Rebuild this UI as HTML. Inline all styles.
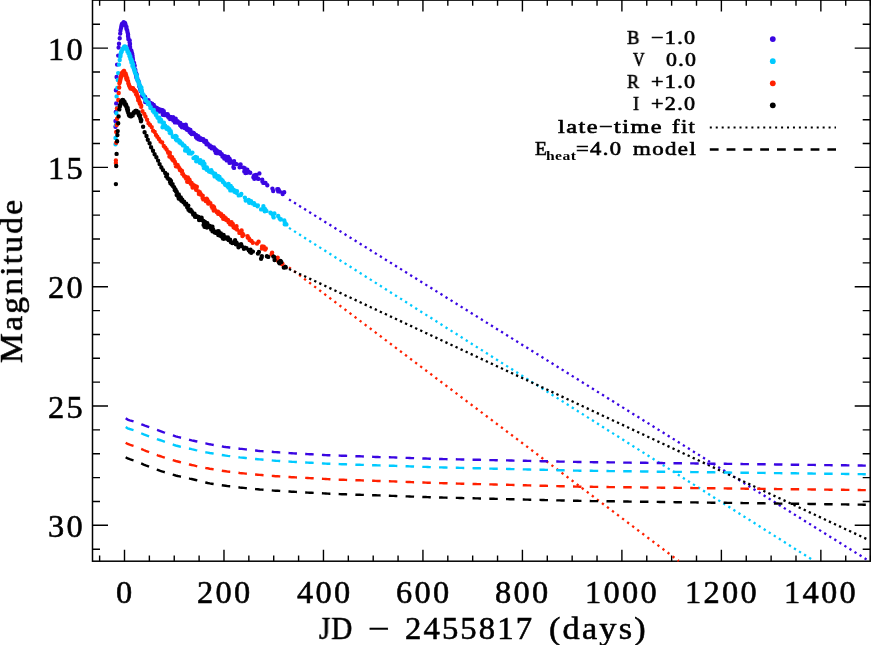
<!DOCTYPE html>
<html><head><meta charset="utf-8"><title>SN 2011fe light curves</title>
<style>
html,body{margin:0;padding:0;background:#fff}
body{width:871px;height:645px;position:relative;overflow:hidden;font-family:"Liberation Serif",serif;color:#000}
.w{position:absolute;white-space:pre;line-height:1;transform-origin:0 0;-webkit-text-stroke:0.55px #000;will-change:transform}
.g{-webkit-text-stroke:0.65px #000}
.b{font-weight:bold;-webkit-text-stroke:0}
</style></head><body>
<svg width="871" height="645" viewBox="0 0 871 645" style="position:absolute;left:0;top:0">
<rect x="92.5" y="0.1" width="777.7" height="561.1" fill="none" stroke="#000" stroke-width="1.5"/>
<path d="M99.63 561.2v-5.7M99.63 0.1v5.7M124.50 561.2v-11.5M124.50 0.1v11.5M149.37 561.2v-5.7M149.37 0.1v5.7M174.24 561.2v-5.7M174.24 0.1v5.7M199.11 561.2v-5.7M199.11 0.1v5.7M223.98 561.2v-11.5M223.98 0.1v11.5M248.85 561.2v-5.7M248.85 0.1v5.7M273.72 561.2v-5.7M273.72 0.1v5.7M298.59 561.2v-5.7M298.59 0.1v5.7M323.46 561.2v-11.5M323.46 0.1v11.5M348.33 561.2v-5.7M348.33 0.1v5.7M373.20 561.2v-5.7M373.20 0.1v5.7M398.07 561.2v-5.7M398.07 0.1v5.7M422.94 561.2v-11.5M422.94 0.1v11.5M447.81 561.2v-5.7M447.81 0.1v5.7M472.68 561.2v-5.7M472.68 0.1v5.7M497.55 561.2v-5.7M497.55 0.1v5.7M522.42 561.2v-11.5M522.42 0.1v11.5M547.29 561.2v-5.7M547.29 0.1v5.7M572.16 561.2v-5.7M572.16 0.1v5.7M597.03 561.2v-5.7M597.03 0.1v5.7M621.90 561.2v-11.5M621.90 0.1v11.5M646.77 561.2v-5.7M646.77 0.1v5.7M671.64 561.2v-5.7M671.64 0.1v5.7M696.51 561.2v-5.7M696.51 0.1v5.7M721.38 561.2v-11.5M721.38 0.1v11.5M746.25 561.2v-5.7M746.25 0.1v5.7M771.12 561.2v-5.7M771.12 0.1v5.7M795.99 561.2v-5.7M795.99 0.1v5.7M820.86 561.2v-11.5M820.86 0.1v11.5M845.73 561.2v-5.7M845.73 0.1v5.7M870.60 561.2v-5.7M870.60 0.1v5.7M92.5 24.26h7.5M870.2 24.26h-7.5M92.5 48.12h15.5M870.2 48.12h-15.5M92.5 71.98h7.5M870.2 71.98h-7.5M92.5 95.84h7.5M870.2 95.84h-7.5M92.5 119.70h7.5M870.2 119.70h-7.5M92.5 143.56h7.5M870.2 143.56h-7.5M92.5 167.42h15.5M870.2 167.42h-15.5M92.5 191.28h7.5M870.2 191.28h-7.5M92.5 215.14h7.5M870.2 215.14h-7.5M92.5 239.00h7.5M870.2 239.00h-7.5M92.5 262.86h7.5M870.2 262.86h-7.5M92.5 286.72h15.5M870.2 286.72h-15.5M92.5 310.58h7.5M870.2 310.58h-7.5M92.5 334.44h7.5M870.2 334.44h-7.5M92.5 358.30h7.5M870.2 358.30h-7.5M92.5 382.16h7.5M870.2 382.16h-7.5M92.5 406.02h15.5M870.2 406.02h-15.5M92.5 429.88h7.5M870.2 429.88h-7.5M92.5 453.74h7.5M870.2 453.74h-7.5M92.5 477.60h7.5M870.2 477.60h-7.5M92.5 501.46h7.5M870.2 501.46h-7.5M92.5 525.32h15.5M870.2 525.32h-15.5M92.5 549.18h7.5M870.2 549.18h-7.5" stroke="#000" stroke-width="1.4" fill="none"/>
<path d="M115.5 126.7h0M115.5 121.0h0M115.8 112.0h0M116.2 103.4h0M115.9 90.2h0M116.6 77.0h0M117.1 64.6h0M118.2 55.6h0M118.6 47.6h0M119.0 43.7h0M119.7 38.3h0M120.2 33.6h0M120.5 30.5h0M121.0 28.2h0M121.3 26.7h0M121.4 26.1h0M121.9 25.8h0M121.7 24.8h0M121.8 24.4h0M122.0 23.9h0M122.6 23.6h0M122.8 23.6h0M122.6 23.4h0M123.0 23.2h0M123.2 23.2h0M123.5 22.7h0M123.7 22.9h0M123.7 22.3h0M124.0 23.3h0M125.0 23.2h0M125.1 23.6h0M124.8 22.9h0M125.3 23.7h0M125.2 23.5h0M125.5 24.6h0M125.6 25.2h0M126.1 26.8h0M126.5 26.9h0M126.4 28.2h0M126.5 29.1h0M127.2 30.3h0M127.4 31.8h0M127.9 33.5h0M128.1 34.7h0M128.0 36.0h0M128.2 37.1h0M128.4 38.2h0M128.4 39.2h0M129.7 40.4h0M129.6 42.2h0M129.9 43.2h0M130.0 44.0h0M129.6 45.4h0M130.0 46.5h0M130.2 48.3h0M130.5 50.0h0M131.4 50.8h0M131.6 51.7h0M132.2 53.7h0M132.2 54.5h0M132.6 56.0h0M132.6 57.5h0M132.8 58.1h0M133.0 59.1h0M132.8 61.0h0M133.7 62.5h0M134.1 63.1h0M133.4 64.3h0M134.7 65.8h0M134.4 66.6h0M134.3 67.5h0M134.4 69.5h0M135.3 69.8h0M135.3 70.6h0M135.3 72.4h0M136.1 73.1h0M135.9 74.3h0M136.9 75.0h0M136.1 75.5h0M136.4 77.6h0M137.2 78.4h0M137.0 78.7h0M137.9 80.4h0M137.7 80.3h0M138.6 81.5h0M138.7 82.2h0M138.9 84.0h0M139.2 84.3h0M139.4 84.9h0M139.2 86.2h0M140.1 86.7h0M140.4 88.2h0M140.7 88.3h0M140.0 88.9h0M141.0 90.4h0M141.1 90.5h0M140.7 91.0h0M142.2 95.3h0M142.2 96.1h0M141.9 92.1h0M143.8 96.8h0M143.9 97.6h0M144.5 96.6h0M144.9 98.7h0M145.2 102.1h0M145.1 96.9h0M146.1 100.1h0M146.1 101.5h0M148.5 100.3h0M148.7 101.6h0M148.5 101.7h0M148.8 103.3h0M150.0 102.9h0M148.9 103.1h0M150.1 105.1h0M150.4 103.5h0M150.3 103.0h0M150.1 104.4h0M152.1 103.6h0M152.3 105.2h0M151.7 106.4h0M151.7 104.3h0M153.5 106.1h0M153.8 104.9h0M153.4 105.7h0M155.0 108.3h0M154.6 106.6h0M155.1 109.3h0M155.4 108.0h0M154.5 108.0h0M156.4 109.7h0M156.9 108.0h0M158.8 109.9h0M158.1 109.8h0M159.2 109.7h0M160.1 111.6h0M159.1 109.2h0M160.7 110.8h0M159.5 111.6h0M161.6 109.9h0M162.9 111.2h0M162.6 110.2h0M162.0 111.6h0M162.8 114.7h0M163.8 111.3h0M164.3 115.0h0M166.3 114.2h0M167.0 115.6h0M168.0 115.2h0M167.6 114.3h0M168.1 116.7h0M169.2 117.9h0M170.0 119.1h0M169.8 117.5h0M170.1 117.0h0M170.7 117.7h0M170.8 118.9h0M171.5 117.3h0M173.2 119.1h0M173.3 120.5h0M173.1 117.2h0M173.7 119.6h0M173.1 118.6h0M174.9 121.0h0M174.9 122.4h0M175.5 120.7h0M175.7 118.7h0M177.5 121.2h0M177.0 122.3h0M177.2 122.5h0M177.9 121.8h0M177.8 122.4h0M178.0 122.2h0M178.4 122.5h0M180.3 122.9h0M180.2 125.3h0M181.2 126.2h0M182.0 127.2h0M182.4 126.0h0M182.4 125.8h0M182.2 124.8h0M184.7 128.0h0M183.6 125.3h0M184.6 125.9h0M185.1 127.6h0M185.8 124.7h0M186.5 127.1h0M186.7 129.5h0M187.6 130.1h0M187.9 129.4h0M188.4 129.8h0M188.0 129.3h0M188.9 129.1h0M188.3 130.2h0M189.6 131.9h0M190.4 130.8h0M190.2 131.8h0M191.1 132.3h0M190.7 133.0h0M190.4 129.9h0M191.8 133.8h0M191.6 132.2h0M191.7 134.0h0M194.1 133.7h0M193.6 133.0h0M194.1 134.0h0M195.3 135.0h0M196.1 134.9h0M196.7 136.2h0M196.1 137.3h0M197.2 138.4h0M196.9 137.1h0M198.2 136.2h0M198.6 139.2h0M198.7 137.0h0M200.5 138.3h0M200.5 139.9h0M201.6 138.9h0M202.0 139.5h0M201.6 138.9h0M203.3 139.3h0M203.7 140.6h0M203.9 141.2h0M204.4 140.9h0M203.7 140.7h0M204.6 140.8h0M204.3 141.8h0M205.1 141.6h0M206.1 140.9h0M206.3 142.1h0M206.9 144.3h0M206.9 143.5h0M206.3 142.7h0M206.8 142.9h0M206.5 144.3h0M207.9 144.3h0M208.0 144.1h0M207.5 143.6h0M209.9 145.5h0M209.6 146.7h0M211.4 146.6h0M212.4 148.0h0M211.8 147.4h0M211.6 148.2h0M213.9 147.5h0M214.7 150.3h0M214.4 148.5h0M215.0 149.0h0M215.7 152.8h0M216.4 150.2h0M216.3 153.0h0M216.2 150.1h0M217.3 151.5h0M217.7 153.0h0M217.7 151.2h0M218.3 152.5h0M219.0 152.9h0M219.2 152.5h0M220.6 153.9h0M219.6 153.2h0M220.0 152.1h0M221.8 154.3h0M220.7 153.6h0M222.4 156.6h0M224.3 158.6h0M224.7 156.2h0M225.9 156.8h0M226.5 157.6h0M227.5 159.3h0M227.5 157.7h0M226.7 160.4h0M228.5 160.2h0M228.2 156.9h0M228.0 159.5h0M229.6 162.9h0M230.2 160.1h0M229.5 158.7h0M229.8 160.8h0M231.3 162.4h0M232.8 161.9h0M233.9 163.5h0M234.1 161.3h0M234.0 163.4h0M233.4 167.1h0M234.2 164.8h0M234.5 163.8h0M234.0 167.9h0M233.9 164.7h0M234.5 164.3h0M236.6 164.1h0M240.6 164.4h0M239.6 167.3h0M240.3 167.0h0M243.6 167.6h0M244.7 168.3h0M244.3 171.4h0M247.3 169.6h0M248.0 171.7h0M246.9 172.7h0M245.4 173.0h0M247.5 172.6h0M250.0 172.6h0M250.2 172.7h0M254.1 175.5h0M256.1 175.0h0M256.2 175.5h0M253.4 177.2h0M254.3 178.7h0M258.3 178.9h0M259.4 173.4h0M257.8 178.4h0M257.2 178.6h0M262.4 181.4h0M263.3 182.9h0M263.7 182.6h0M262.2 179.6h0M263.4 182.4h0M265.5 182.9h0M267.3 185.3h0M273.2 191.0h0M272.4 188.6h0M279.6 191.6h0M278.2 191.4h0M278.9 190.3h0M278.3 189.3h0M277.3 189.1h0M282.5 192.9h0M284.2 192.3h0M282.6 192.8h0M282.7 194.0h0" stroke="#3a06e2" stroke-width="4.4" stroke-linecap="round" fill="none"/>
<path d="M115.5 144.3h0M115.5 138.0h0M116.0 125.0h0M116.4 113.3h0M117.1 108.0h0M116.6 96.4h0M117.3 88.0h0M117.8 80.0h0M118.2 73.1h0M119.0 64.6h0M119.7 60.0h0M120.4 56.4h0M120.5 55.7h0M120.6 54.5h0M120.7 54.0h0M120.9 52.8h0M121.2 52.5h0M121.8 51.6h0M121.5 51.0h0M122.1 50.4h0M122.3 50.0h0M122.5 49.6h0M122.5 48.9h0M122.9 49.1h0M123.0 48.4h0M123.4 48.6h0M123.6 48.1h0M123.8 47.6h0M123.7 47.8h0M124.2 47.4h0M124.2 47.1h0M124.2 46.6h0M124.9 46.7h0M124.5 46.6h0M124.5 46.5h0M125.4 46.8h0M125.2 47.6h0M125.2 47.9h0M125.8 47.9h0M126.5 47.9h0M125.9 48.2h0M126.6 48.3h0M126.9 49.3h0M127.0 49.5h0M127.1 49.8h0M127.8 51.3h0M127.4 51.4h0M128.3 52.1h0M128.2 52.0h0M128.4 53.2h0M129.3 53.7h0M128.9 53.7h0M129.1 54.8h0M129.3 55.7h0M130.3 56.2h0M129.8 56.7h0M130.5 58.0h0M130.3 58.7h0M131.4 59.6h0M131.6 60.6h0M131.1 60.5h0M132.1 61.5h0M131.4 62.5h0M132.1 62.8h0M132.9 63.9h0M133.2 64.4h0M132.4 65.9h0M132.9 66.7h0M133.4 67.1h0M133.2 67.4h0M134.1 68.9h0M134.5 69.6h0M134.7 70.5h0M134.3 70.2h0M134.6 71.5h0M135.0 71.6h0M134.9 72.6h0M135.5 73.4h0M136.0 74.6h0M136.6 75.0h0M136.9 75.8h0M136.6 76.5h0M137.2 77.7h0M137.1 78.0h0M136.9 78.6h0M137.1 79.4h0M137.5 80.6h0M138.4 81.1h0M138.4 81.7h0M139.2 83.1h0M139.1 83.7h0M139.0 84.1h0M139.2 85.2h0M139.8 85.8h0M140.0 85.6h0M139.9 86.9h0M140.9 87.7h0M140.5 88.4h0M141.1 89.4h0M140.4 89.9h0M141.4 89.5h0M141.4 87.4h0M141.8 90.1h0M142.1 92.7h0M142.2 93.6h0M142.9 94.1h0M143.7 95.2h0M144.9 99.0h0M145.1 98.9h0M145.7 100.5h0M145.7 98.6h0M146.4 101.1h0M147.9 103.1h0M147.8 103.9h0M148.7 102.7h0M148.4 104.0h0M149.2 104.5h0M150.7 107.1h0M150.4 107.9h0M152.8 110.8h0M153.8 109.9h0M154.3 112.6h0M154.2 112.4h0M155.9 114.9h0M156.2 114.8h0M156.4 113.6h0M157.4 117.3h0M158.0 117.9h0M159.2 119.4h0M159.5 121.4h0M159.7 118.7h0M159.4 117.7h0M161.0 121.5h0M161.1 119.9h0M161.4 121.5h0M162.4 122.7h0M162.5 127.2h0M163.9 122.7h0M162.9 123.7h0M165.2 125.8h0M164.8 125.8h0M165.1 126.3h0M165.7 127.6h0M167.8 127.7h0M166.6 128.7h0M167.5 127.5h0M168.4 128.9h0M168.8 129.1h0M169.3 130.4h0M168.6 129.8h0M169.4 129.3h0M169.7 132.7h0M170.2 131.0h0M171.2 133.4h0M170.8 131.2h0M172.8 136.7h0M173.8 136.7h0M174.7 136.2h0M175.8 138.0h0M176.3 138.2h0M175.9 139.4h0M175.8 136.0h0M176.6 136.8h0M176.9 140.4h0M176.1 138.5h0M177.4 139.7h0M178.5 140.2h0M179.7 141.2h0M179.5 141.8h0M179.4 141.4h0M180.3 142.0h0M179.5 142.5h0M181.1 143.5h0M182.0 143.5h0M183.1 144.9h0M183.0 145.4h0M184.4 145.7h0M185.1 150.5h0M185.3 147.3h0M187.2 148.3h0M188.0 150.4h0M187.6 151.0h0M189.0 150.4h0M189.0 150.8h0M188.8 153.3h0M191.2 153.6h0M192.4 152.6h0M193.5 158.1h0M195.5 157.0h0M194.4 157.8h0M196.2 161.2h0M196.5 158.0h0M197.0 157.4h0M196.9 159.1h0M198.2 160.1h0M200.4 160.3h0M199.8 162.7h0M201.2 163.0h0M201.6 163.6h0M203.4 165.9h0M203.2 161.6h0M203.4 163.8h0M204.5 164.0h0M203.9 167.9h0M205.6 167.9h0M205.0 168.2h0M206.2 167.2h0M206.8 169.7h0M206.9 167.4h0M207.4 169.6h0M207.4 168.9h0M209.0 171.4h0M211.3 170.3h0M210.1 171.9h0M210.7 171.0h0M211.9 171.6h0M211.9 172.5h0M213.5 173.2h0M214.3 175.1h0M214.6 176.4h0M215.1 173.8h0M215.7 175.3h0M216.4 175.5h0M217.0 177.2h0M218.0 177.0h0M217.4 178.3h0M218.6 178.2h0M219.8 179.6h0M218.3 176.3h0M219.1 179.6h0M219.2 178.8h0M219.5 176.9h0M219.6 177.9h0M221.2 179.4h0M221.3 179.9h0M222.5 180.4h0M222.9 182.0h0M223.3 181.9h0M224.6 183.5h0M224.6 183.2h0M224.9 184.2h0M226.0 185.1h0M225.4 184.9h0M226.8 185.3h0M227.3 186.0h0M228.0 185.6h0M228.6 183.9h0M228.4 187.5h0M229.1 185.7h0M229.4 186.0h0M229.2 187.2h0M230.7 186.0h0M230.3 190.4h0M231.2 189.2h0M230.3 188.7h0M232.0 187.8h0M232.5 190.2h0M232.9 189.4h0M234.6 191.2h0M234.7 190.5h0M235.2 191.4h0M234.5 191.8h0M234.2 191.0h0M236.4 191.3h0M236.5 192.8h0M237.0 191.3h0M241.3 194.0h0M240.8 195.0h0M238.7 195.4h0M245.7 200.5h0M244.9 197.6h0M249.6 202.8h0M251.1 201.2h0M249.2 202.8h0M248.7 200.0h0M254.8 204.4h0M252.5 203.4h0M254.6 204.9h0M254.0 203.2h0M252.3 203.1h0M257.9 205.4h0M257.6 206.3h0M263.4 206.3h0M261.1 209.4h0M265.1 211.1h0M264.8 211.3h0M265.5 209.9h0M266.4 210.9h0M264.9 208.9h0M270.5 212.8h0M271.3 213.4h0M273.7 217.4h0M273.3 216.8h0M274.4 213.5h0M272.8 214.7h0M273.2 214.7h0M280.8 219.2h0M278.2 216.0h0M280.5 219.5h0M278.2 216.2h0M279.6 218.6h0M285.6 223.6h0M286.4 224.4h0M284.7 224.3h0M284.3 220.4h0M284.6 221.4h0" stroke="#00caff" stroke-width="4.4" stroke-linecap="round" fill="none"/>
<path d="M115.9 163.0h0M115.9 160.5h0M116.2 142.7h0M116.2 131.9h0M116.7 125.0h0M117.1 118.7h0M116.9 108.4h0M118.3 100.0h0M118.7 93.0h0M119.2 87.5h0M119.4 83.2h0M119.8 82.6h0M120.0 81.5h0M120.2 80.6h0M120.5 79.2h0M120.8 78.1h0M120.7 77.4h0M121.3 76.2h0M121.0 75.9h0M121.6 75.1h0M121.6 74.8h0M121.8 74.4h0M121.8 73.9h0M121.9 73.0h0M122.6 72.6h0M122.9 72.5h0M123.0 72.0h0M123.0 72.0h0M123.1 71.8h0M123.5 71.9h0M123.6 71.2h0M123.7 71.1h0M123.9 71.0h0M124.1 71.0h0M124.2 71.2h0M124.3 72.0h0M124.4 72.4h0M124.6 72.7h0M125.7 73.8h0M125.4 74.0h0M126.2 75.5h0M125.5 75.9h0M126.3 76.2h0M126.1 77.7h0M127.3 78.2h0M126.5 79.2h0M127.6 80.4h0M127.9 81.3h0M128.1 81.3h0M128.3 83.2h0M128.3 83.2h0M129.0 84.6h0M128.9 84.3h0M129.0 85.3h0M129.6 86.6h0M129.5 86.5h0M129.9 87.3h0M130.2 87.1h0M130.2 88.0h0M130.6 87.6h0M130.4 87.5h0M130.5 88.5h0M131.4 88.4h0M131.8 88.3h0M131.3 88.3h0M131.8 87.9h0M132.3 89.1h0M133.1 88.3h0M133.1 88.3h0M132.6 88.7h0M133.0 88.8h0M133.2 89.2h0M134.0 90.4h0M134.1 89.7h0M134.0 90.0h0M135.1 90.7h0M134.4 91.0h0M134.8 91.4h0M135.3 91.6h0M135.9 91.7h0M135.4 91.9h0M136.1 92.2h0M136.7 93.5h0M136.1 94.3h0M137.1 94.8h0M137.1 95.5h0M136.8 95.6h0M137.9 96.8h0M137.9 97.8h0M138.5 98.6h0M138.2 99.1h0M138.2 100.2h0M138.9 100.0h0M139.4 101.8h0M139.8 102.1h0M139.7 103.2h0M140.2 103.2h0M140.5 104.6h0M140.2 104.6h0M140.6 105.0h0M141.2 105.8h0M141.2 106.8h0M142.5 111.3h0M144.3 113.9h0M145.5 116.5h0M147.1 119.7h0M148.5 123.2h0M150.0 125.0h0M151.7 127.1h0M153.1 130.8h0M154.7 131.9h0M156.0 134.9h0M157.3 136.8h0M158.9 139.0h0M160.5 141.4h0M162.2 142.5h0M163.8 145.9h0M165.3 147.7h0M166.6 149.5h0M168.0 152.1h0M168.2 152.8h0M168.1 152.0h0M169.8 154.1h0M169.4 156.6h0M169.8 152.8h0M170.1 156.2h0M171.3 157.8h0M171.6 157.6h0M172.6 159.7h0M172.3 159.2h0M172.1 157.3h0M173.7 159.8h0M173.4 160.5h0M174.8 161.8h0M175.3 163.7h0M175.9 166.3h0M176.2 165.2h0M176.8 164.8h0M177.6 165.0h0M176.6 165.6h0M178.3 166.9h0M179.4 168.2h0M178.6 167.2h0M180.5 169.7h0M179.9 170.0h0M180.3 170.0h0M181.6 171.2h0M182.9 174.0h0M182.0 170.9h0M182.1 173.6h0M183.1 174.3h0M184.1 175.9h0M184.9 176.4h0M185.4 176.7h0M185.4 176.7h0M185.4 177.3h0M186.0 178.5h0M187.9 177.5h0M187.7 179.9h0M187.2 181.8h0M189.0 180.4h0M188.0 179.2h0M188.5 182.0h0M190.0 181.4h0M189.0 181.6h0M189.7 181.6h0M189.5 179.7h0M191.0 183.9h0M191.6 182.9h0M192.8 184.5h0M192.6 187.5h0M192.2 185.6h0M193.5 185.2h0M194.6 185.6h0M195.4 186.8h0M196.7 187.2h0M196.8 186.7h0M196.1 189.7h0M196.3 189.9h0M196.5 187.7h0M198.6 191.5h0M199.8 192.3h0M199.2 192.2h0M198.9 193.9h0M200.3 194.4h0M201.0 194.8h0M200.9 194.1h0M200.5 194.6h0M202.6 198.0h0M202.3 195.7h0M202.7 195.6h0M204.4 199.1h0M203.3 199.4h0M203.4 198.4h0M204.6 199.5h0M205.8 201.0h0M206.7 198.7h0M207.5 201.7h0M207.3 199.6h0M206.3 199.1h0M208.2 203.6h0M208.5 201.5h0M209.3 203.3h0M208.7 203.6h0M208.6 202.9h0M210.4 203.3h0M211.7 206.4h0M213.0 206.3h0M213.0 207.0h0M212.2 207.7h0M214.1 208.5h0M214.1 207.2h0M213.7 210.6h0M214.8 209.7h0M216.7 212.0h0M218.0 211.7h0M217.6 212.7h0M217.3 211.8h0M218.3 213.9h0M219.7 213.3h0M220.8 214.2h0M221.7 216.2h0M221.0 215.2h0M221.3 214.2h0M223.3 215.9h0M223.4 217.4h0M223.2 218.8h0M222.8 217.0h0M224.2 217.4h0M225.7 219.5h0M224.8 217.4h0M225.9 218.5h0M226.1 220.0h0M226.4 219.5h0M228.3 220.7h0M227.9 220.0h0M227.7 220.1h0M228.6 222.3h0M230.1 224.2h0M231.5 222.2h0M232.2 224.4h0M232.8 224.0h0M231.8 224.7h0M233.6 227.3h0M234.3 226.9h0M235.2 228.2h0M236.2 226.8h0M234.5 227.6h0M236.5 226.2h0M237.0 229.5h0M234.5 227.8h0M239.5 232.5h0M239.4 232.9h0M241.6 230.4h0M241.5 233.2h0M240.3 231.5h0M243.4 234.9h0M242.4 236.1h0M242.6 233.7h0M249.6 240.0h0M249.0 238.4h0M247.7 237.6h0M247.8 236.8h0M247.6 236.1h0M251.5 241.0h0M252.8 242.8h0M258.6 241.8h0M257.0 243.5h0M261.9 248.5h0M263.1 247.2h0M262.1 246.5h0M263.1 247.0h0M265.8 248.5h0M265.1 249.5h0M263.8 246.7h0M272.1 252.6h0M271.6 254.2h0M272.1 255.0h0M276.5 259.5h0M277.7 257.8h0M277.2 260.2h0M276.3 259.5h0M282.5 263.9h0M282.1 264.3h0" stroke="#ff2000" stroke-width="4.4" stroke-linecap="round" fill="none"/>
<path d="M115.9 184.1h0M116.2 166.0h0M116.6 153.9h0M117.1 141.2h0M117.4 135.0h0M117.7 131.1h0M118.2 123.3h0M118.6 116.4h0M119.3 109.4h0M119.9 106.4h0M119.8 105.6h0M120.4 104.8h0M120.6 104.2h0M120.6 103.4h0M120.8 103.2h0M121.2 102.6h0M121.0 102.2h0M121.0 101.7h0M121.2 101.4h0M121.9 101.2h0M121.9 100.6h0M121.9 101.0h0M122.0 100.5h0M122.2 100.5h0M122.8 100.1h0M122.4 99.9h0M123.3 100.3h0M123.1 100.2h0M124.0 101.5h0M123.7 101.8h0M123.8 101.5h0M124.5 102.4h0M124.4 102.5h0M124.6 102.0h0M124.6 102.6h0M124.9 104.1h0M125.1 104.7h0M126.0 104.5h0M126.0 105.7h0M126.6 106.2h0M126.3 106.7h0M126.9 107.8h0M127.7 108.0h0M127.1 109.2h0M128.0 109.9h0M127.8 111.4h0M127.6 111.1h0M128.1 112.6h0M128.3 113.0h0M129.1 114.0h0M128.9 115.0h0M129.3 114.4h0M130.0 115.8h0M129.5 115.7h0M129.6 115.8h0M131.0 116.2h0M130.5 115.8h0M130.5 115.5h0M130.6 116.3h0M131.6 115.2h0M131.2 116.2h0M132.3 115.2h0M132.7 115.4h0M132.3 114.4h0M132.1 114.3h0M132.5 114.1h0M133.2 113.6h0M133.2 113.9h0M133.7 113.6h0M133.7 112.4h0M134.4 112.0h0M135.0 112.0h0M135.1 112.1h0M135.2 111.8h0M135.4 111.6h0M135.6 111.5h0M135.1 112.1h0M135.4 110.9h0M136.7 111.8h0M135.9 110.9h0M136.7 110.9h0M136.8 112.2h0M137.4 111.9h0M136.9 112.1h0M138.2 112.8h0M138.1 112.7h0M138.4 112.1h0M137.9 113.1h0M138.7 113.8h0M138.6 114.2h0M139.1 115.0h0M138.9 115.3h0M140.0 115.5h0M139.7 116.5h0M140.1 117.7h0M140.4 118.7h0M140.7 119.0h0M141.3 120.1h0M141.0 121.3h0M143.1 126.7h0M144.6 132.3h0M146.5 136.0h0M147.8 139.8h0M149.6 143.3h0M151.1 147.2h0M153.0 150.8h0M154.6 154.2h0M156.4 157.3h0M158.1 160.6h0M159.6 164.1h0M161.4 167.4h0M163.0 170.1h0M165.2 173.0h0M167.1 174.4h0M166.2 176.2h0M167.5 177.9h0M167.9 178.5h0M167.5 177.9h0M170.0 179.8h0M168.7 179.0h0M170.4 183.3h0M170.0 182.0h0M171.0 181.0h0M171.0 183.3h0M172.9 185.9h0M172.6 184.1h0M171.7 184.5h0M174.3 187.8h0M174.1 187.2h0M175.4 189.4h0M174.7 189.9h0M175.8 190.3h0M176.0 191.4h0M176.5 191.6h0M176.8 191.9h0M176.7 194.9h0M177.7 195.8h0M178.8 194.5h0M177.9 195.6h0M178.7 198.6h0M180.5 199.6h0M180.8 197.5h0M181.8 200.9h0M182.3 199.8h0M181.5 200.8h0M183.4 202.3h0M184.1 201.6h0M183.0 201.6h0M185.2 204.5h0M185.9 204.8h0M185.4 204.6h0M186.6 205.1h0M186.2 203.6h0M187.2 207.2h0M188.3 205.6h0M187.6 206.7h0M188.7 209.3h0M187.8 207.8h0M188.5 209.7h0M189.6 210.7h0M189.6 209.6h0M190.6 209.6h0M190.5 210.2h0M191.1 211.6h0M191.7 211.3h0M192.1 212.1h0M193.2 214.5h0M194.5 213.6h0M195.0 216.8h0M195.0 215.1h0M195.8 215.7h0M196.2 216.8h0M196.8 216.4h0M198.6 217.0h0M198.9 218.3h0M199.1 220.0h0M200.3 218.8h0M200.3 218.8h0M201.0 219.0h0M201.6 217.7h0M202.3 220.2h0M203.1 220.6h0M204.0 222.6h0M203.6 224.9h0M204.8 221.6h0M204.5 226.7h0M204.7 223.9h0M206.6 223.6h0M206.0 224.7h0M207.0 223.8h0M207.3 223.3h0M205.9 224.7h0M207.9 226.1h0M207.0 227.6h0M208.0 225.4h0M208.8 226.9h0M209.9 226.0h0M209.9 225.9h0M211.5 229.1h0M212.4 226.6h0M211.2 229.6h0M212.6 229.5h0M212.5 231.3h0M213.0 229.1h0M213.9 231.1h0M213.8 231.2h0M215.4 232.7h0M214.8 232.5h0M216.3 231.9h0M217.5 232.9h0M218.3 233.4h0M218.2 232.2h0M217.3 231.5h0M218.3 235.0h0M219.0 234.0h0M219.1 235.3h0M218.6 231.1h0M219.0 234.0h0M220.1 234.7h0M220.9 233.4h0M221.0 236.0h0M221.6 236.3h0M222.4 236.5h0M222.9 238.6h0M222.5 237.6h0M223.6 235.0h0M224.1 237.0h0M223.6 237.4h0M223.7 238.8h0M225.5 237.9h0M225.2 237.1h0M224.7 238.6h0M227.4 238.2h0M227.7 239.0h0M228.6 240.0h0M227.9 237.4h0M229.3 240.3h0M230.1 239.6h0M231.0 242.1h0M231.0 242.3h0M232.3 243.1h0M232.1 242.8h0M233.9 242.4h0M234.0 242.6h0M234.1 242.0h0M234.6 241.5h0M236.2 243.2h0M236.5 242.6h0M235.9 244.2h0M235.1 240.3h0M239.6 244.6h0M238.5 247.2h0M239.7 244.6h0M243.9 248.7h0M241.1 244.1h0M241.8 246.1h0M246.5 248.2h0M245.0 247.8h0M248.8 250.3h0M249.9 251.7h0M250.5 249.7h0M252.4 251.5h0M252.9 251.6h0M251.2 252.7h0M257.9 253.6h0M258.9 252.0h0M261.8 256.1h0M261.1 258.7h0M261.7 257.3h0M266.9 256.2h0M268.2 256.9h0M274.2 256.9h0M273.4 256.6h0M274.6 260.0h0M281.3 262.0h0M278.9 262.3h0M279.5 263.3h0M280.5 261.0h0M283.8 267.6h0M285.8 267.4h0M285.3 267.0h0M285.5 266.9h0M284.8 267.6h0" stroke="#000000" stroke-width="4.4" stroke-linecap="round" fill="none"/>
<path d="M289 199.4L866.5 559.4" stroke="#3a06e2" stroke-width="2.3" stroke-dasharray="2.3 3.65" fill="none"/>
<path d="M289 227.9L814.2 561" stroke="#00caff" stroke-width="2.3" stroke-dasharray="2.3 3.68" fill="none"/>
<path d="M289 267.3L678.8 561" stroke="#ff2000" stroke-width="2.3" stroke-dasharray="2.3 4.02" fill="none"/>
<path d="M289 269.0L867.5 539.4" stroke="#000000" stroke-width="2.3" stroke-dasharray="2.3 3.27" fill="none"/>
<path d="M125.7 418.3L127.7 419.6L129.7 420.3L131.7 420.8L133.7 421.4L135.7 422.1L137.7 422.9L139.7 423.7L141.7 424.5L143.7 425.2L145.7 426.0L147.7 426.7L149.7 427.4L151.7 428.1L153.7 428.8L155.7 429.5L157.7 430.2L159.7 430.9L161.7 431.6L163.7 432.3L165.7 432.9L167.7 433.6L169.7 434.3L171.7 435.0L173.7 435.6L175.7 436.3L177.7 436.9L179.7 437.4L181.7 437.9L183.7 438.4L185.7 438.9L187.7 439.4L189.7 439.9L191.7 440.4L193.7 440.8L195.7 441.2L197.7 441.6L199.7 442.1L201.7 442.5L203.7 442.9L205.7 443.3L207.7 443.8L209.7 444.3L211.7 444.6L213.7 445.0L215.7 445.3L217.7 445.7L219.7 446.0L221.7 446.3L223.7 446.7L225.7 447.0L227.7 447.2L229.7 447.5L231.7 447.7L233.7 448.0L235.7 448.2L237.7 448.4L239.7 448.7L241.7 448.9L243.7 449.1L245.7 449.4L247.7 449.6L249.7 449.8L251.7 450.1L253.7 450.3L255.7 450.5L257.7 450.8L259.7 451.0L261.7 451.1L263.7 451.2L265.7 451.4L267.7 451.5L269.7 451.7L271.7 451.8L273.7 452.0L275.7 452.1L277.7 452.2L279.7 452.4L281.7 452.5L283.7 452.7L285.7 452.8L287.7 453.0L289.7 453.1L291.7 453.2L293.7 453.4L295.7 453.5L297.7 453.6L299.7 453.7L301.7 453.8L303.7 453.9L305.7 454.0L307.7 454.1L309.7 454.2L311.7 454.3L313.7 454.4L315.7 454.6L317.7 454.7L319.7 454.8L321.7 454.9L323.7 455.0L325.7 455.1L327.7 455.2L329.7 455.2L331.7 455.3L333.7 455.4L335.7 455.5L337.7 455.5L339.7 455.6L341.7 455.7L343.7 455.7L345.7 455.8L347.7 455.9L349.7 456.0L351.7 456.0L353.7 456.1L355.7 456.2L357.7 456.2L359.7 456.3L361.7 456.4L363.7 456.5L365.7 456.6L367.7 456.7L369.7 456.7L371.7 456.8L373.7 456.9L375.7 457.0L377.7 457.0L379.7 457.1L381.7 457.1L383.7 457.2L385.7 457.2L387.7 457.3L389.7 457.3L391.7 457.4L393.7 457.4L395.7 457.5L397.7 457.6L399.7 457.6L401.7 457.7L403.7 457.8L405.7 457.9L407.7 457.9L409.7 458.0L411.7 458.1L413.7 458.1L415.7 458.2L417.7 458.3L419.7 458.3L421.7 458.4L423.7 458.5L425.7 458.5L427.7 458.6L429.7 458.7L431.7 458.8L433.7 458.8L435.7 458.9L437.7 458.9L439.7 459.0L441.7 459.0L443.7 459.1L445.7 459.1L447.7 459.2L449.7 459.2L451.7 459.2L453.7 459.3L455.7 459.3L457.7 459.4L459.7 459.4L461.7 459.5L463.7 459.5L465.7 459.5L467.7 459.6L469.7 459.6L471.7 459.7L473.7 459.7L475.7 459.8L477.7 459.8L479.7 459.8L481.7 459.9L483.7 459.9L485.7 460.0L487.7 460.0L489.7 460.1L491.7 460.1L493.7 460.1L495.7 460.2L497.7 460.2L499.7 460.3L501.7 460.3L503.7 460.4L505.7 460.4L507.7 460.4L509.7 460.5L511.7 460.5L513.7 460.6L515.7 460.6L517.7 460.7L519.7 460.7L521.7 460.7L523.7 460.8L525.7 460.8L527.7 460.9L529.7 460.9L531.7 461.0L533.7 461.0L535.7 461.0L537.7 461.1L539.7 461.1L541.7 461.2L543.7 461.2L545.7 461.3L547.7 461.3L549.7 461.3L551.7 461.4L553.7 461.4L555.7 461.5L557.7 461.5L559.7 461.6L561.7 461.6L563.7 461.6L565.7 461.7L567.7 461.7L569.7 461.8L571.7 461.8L573.7 461.9L575.7 461.9L577.7 462.0L579.7 462.0L581.7 462.0L583.7 462.0L585.7 462.1L587.7 462.1L589.7 462.1L591.7 462.1L593.7 462.2L595.7 462.2L597.7 462.2L599.7 462.2L601.7 462.3L603.7 462.3L605.7 462.3L607.7 462.3L609.7 462.4L611.7 462.4L613.7 462.4L615.7 462.4L617.7 462.5L619.7 462.5L621.7 462.5L623.7 462.6L625.7 462.6L627.7 462.6L629.7 462.6L631.7 462.7L633.7 462.7L635.7 462.7L637.7 462.7L639.7 462.8L641.7 462.8L643.7 462.8L645.7 462.8L647.7 462.9L649.7 462.9L651.7 462.9L653.7 462.9L655.7 463.0L657.7 463.0L659.7 463.0L661.7 463.0L663.7 463.1L665.7 463.1L667.7 463.1L669.7 463.1L671.7 463.2L673.7 463.2L675.7 463.2L677.7 463.2L679.7 463.3L681.7 463.3L683.7 463.3L685.7 463.3L687.7 463.4L689.7 463.4L691.7 463.4L693.7 463.4L695.7 463.5L697.7 463.5L699.7 463.5L701.7 463.5L703.7 463.6L705.7 463.6L707.7 463.6L709.7 463.6L711.7 463.7L713.7 463.7L715.7 463.7L717.7 463.7L719.7 463.8L721.7 463.8L723.7 463.8L725.7 463.8L727.7 463.9L729.7 463.9L731.7 463.9L733.7 463.9L735.7 464.0L737.7 464.0L739.7 464.0L741.7 464.0L743.7 464.1L745.7 464.1L747.7 464.1L749.7 464.1L751.7 464.2L753.7 464.2L755.7 464.2L757.7 464.2L759.7 464.3L761.7 464.3L763.7 464.3L765.7 464.3L767.7 464.4L769.7 464.4L771.7 464.4L773.7 464.4L775.7 464.5L777.7 464.5L779.7 464.5L781.7 464.5L783.7 464.6L785.7 464.6L787.7 464.6L789.7 464.6L791.7 464.7L793.7 464.7L795.7 464.7L797.7 464.7L799.7 464.8L801.7 464.8L803.7 464.8L805.7 464.8L807.7 464.9L809.7 464.9L811.7 464.9L813.7 464.9L815.7 465.0L817.7 465.0L819.7 465.0L821.7 465.0L823.7 465.1L825.7 465.1L827.7 465.1L829.7 465.1L831.7 465.2L833.7 465.2L835.7 465.2L837.7 465.2L839.7 465.3L841.7 465.3L843.7 465.3L845.7 465.3L847.7 465.4L849.7 465.4L851.7 465.4L853.7 465.4L855.7 465.5L857.7 465.5L859.7 465.5L861.7 465.5L863.7 465.6L865.7 465.6L865.8 465.6" stroke="#3a06e2" stroke-width="2.4" stroke-dasharray="8.5 8.25" fill="none"/>
<path d="M125.7 427.0L127.7 428.3L129.7 429.0L131.7 429.6L133.7 430.2L135.7 431.0L137.7 431.8L139.7 432.7L141.7 433.5L143.7 434.4L145.7 435.1L147.7 435.8L149.7 436.5L151.7 437.2L153.7 437.9L155.7 438.6L157.7 439.3L159.7 440.0L161.7 440.7L163.7 441.4L165.7 442.1L167.7 442.8L169.7 443.4L171.7 444.1L173.7 444.8L175.7 445.5L177.7 446.0L179.7 446.5L181.7 446.9L183.7 447.4L185.7 447.8L187.7 448.3L189.7 448.7L191.7 449.2L193.7 449.6L195.7 450.1L197.7 450.5L199.7 451.0L201.7 451.4L203.7 451.9L205.7 452.3L207.7 452.6L209.7 453.0L211.7 453.3L213.7 453.7L215.7 454.0L217.7 454.3L219.7 454.6L221.7 455.0L223.7 455.3L225.7 455.6L227.7 455.9L229.7 456.1L231.7 456.4L233.7 456.6L235.7 456.9L237.7 457.1L239.7 457.4L241.7 457.6L243.7 457.8L245.7 458.0L247.7 458.2L249.7 458.4L251.7 458.6L253.7 458.8L255.7 459.0L257.7 459.2L259.7 459.4L261.7 459.5L263.7 459.7L265.7 459.9L267.7 460.1L269.7 460.3L271.7 460.4L273.7 460.6L275.7 460.8L277.7 460.9L279.7 461.0L281.7 461.2L283.7 461.3L285.7 461.4L287.7 461.5L289.7 461.6L291.7 461.8L293.7 461.9L295.7 462.0L297.7 462.1L299.7 462.2L301.7 462.3L303.7 462.4L305.7 462.5L307.7 462.6L309.7 462.7L311.7 462.8L313.7 462.9L315.7 463.1L317.7 463.2L319.7 463.3L321.7 463.4L323.7 463.5L325.7 463.6L327.7 463.7L329.7 463.7L331.7 463.8L333.7 463.9L335.7 464.0L337.7 464.0L339.7 464.1L341.7 464.2L343.7 464.2L345.7 464.3L347.7 464.4L349.7 464.5L351.7 464.5L353.7 464.6L355.7 464.7L357.7 464.7L359.7 464.8L361.7 464.9L363.7 464.9L365.7 465.0L367.7 465.1L369.7 465.1L371.7 465.2L373.7 465.2L375.7 465.3L377.7 465.4L379.7 465.4L381.7 465.5L383.7 465.5L385.7 465.6L387.7 465.7L389.7 465.7L391.7 465.8L393.7 465.8L395.7 465.9L397.7 466.0L399.7 466.0L401.7 466.1L403.7 466.2L405.7 466.3L407.7 466.3L409.7 466.4L411.7 466.5L413.7 466.5L415.7 466.6L417.7 466.7L419.7 466.7L421.7 466.8L423.7 466.9L425.7 466.9L427.7 467.0L429.7 467.1L431.7 467.2L433.7 467.2L435.7 467.3L437.7 467.3L439.7 467.4L441.7 467.4L443.7 467.5L445.7 467.5L447.7 467.6L449.7 467.6L451.7 467.7L453.7 467.7L455.7 467.8L457.7 467.8L459.7 467.9L461.7 467.9L463.7 468.0L465.7 468.0L467.7 468.0L469.7 468.1L471.7 468.1L473.7 468.2L475.7 468.2L477.7 468.3L479.7 468.3L481.7 468.4L483.7 468.4L485.7 468.5L487.7 468.5L489.7 468.6L491.7 468.6L493.7 468.7L495.7 468.7L497.7 468.8L499.7 468.8L501.7 468.9L503.7 468.9L505.7 468.9L507.7 469.0L509.7 469.0L511.7 469.1L513.7 469.1L515.7 469.2L517.7 469.2L519.7 469.3L521.7 469.3L523.7 469.4L525.7 469.4L527.7 469.5L529.7 469.5L531.7 469.6L533.7 469.6L535.7 469.7L537.7 469.7L539.7 469.7L541.7 469.8L543.7 469.8L545.7 469.9L547.7 469.9L549.7 470.0L551.7 470.0L553.7 470.1L555.7 470.1L557.7 470.2L559.7 470.2L561.7 470.3L563.7 470.3L565.7 470.4L567.7 470.4L569.7 470.5L571.7 470.5L573.7 470.6L575.7 470.6L577.7 470.6L579.7 470.7L581.7 470.7L583.7 470.7L585.7 470.8L587.7 470.8L589.7 470.8L591.7 470.8L593.7 470.9L595.7 470.9L597.7 470.9L599.7 470.9L601.7 471.0L603.7 471.0L605.7 471.0L607.7 471.0L609.7 471.1L611.7 471.1L613.7 471.1L615.7 471.1L617.7 471.2L619.7 471.2L621.7 471.2L623.7 471.2L625.7 471.3L627.7 471.3L629.7 471.3L631.7 471.3L633.7 471.4L635.7 471.4L637.7 471.4L639.7 471.4L641.7 471.5L643.7 471.5L645.7 471.5L647.7 471.5L649.7 471.6L651.7 471.6L653.7 471.6L655.7 471.6L657.7 471.7L659.7 471.7L661.7 471.7L663.7 471.7L665.7 471.7L667.7 471.8L669.7 471.8L671.7 471.8L673.7 471.8L675.7 471.9L677.7 471.9L679.7 471.9L681.7 471.9L683.7 472.0L685.7 472.0L687.7 472.0L689.7 472.0L691.7 472.1L693.7 472.1L695.7 472.1L697.7 472.1L699.7 472.2L701.7 472.2L703.7 472.2L705.7 472.2L707.7 472.3L709.7 472.3L711.7 472.3L713.7 472.3L715.7 472.4L717.7 472.4L719.7 472.4L721.7 472.4L723.7 472.5L725.7 472.5L727.7 472.5L729.7 472.5L731.7 472.6L733.7 472.6L735.7 472.6L737.7 472.6L739.7 472.7L741.7 472.7L743.7 472.7L745.7 472.7L747.7 472.8L749.7 472.8L751.7 472.8L753.7 472.8L755.7 472.9L757.7 472.9L759.7 472.9L761.7 472.9L763.7 472.9L765.7 473.0L767.7 473.0L769.7 473.0L771.7 473.0L773.7 473.1L775.7 473.1L777.7 473.1L779.7 473.1L781.7 473.2L783.7 473.2L785.7 473.2L787.7 473.2L789.7 473.3L791.7 473.3L793.7 473.3L795.7 473.3L797.7 473.4L799.7 473.4L801.7 473.4L803.7 473.4L805.7 473.5L807.7 473.5L809.7 473.5L811.7 473.5L813.7 473.6L815.7 473.6L817.7 473.6L819.7 473.6L821.7 473.7L823.7 473.7L825.7 473.7L827.7 473.7L829.7 473.8L831.7 473.8L833.7 473.8L835.7 473.8L837.7 473.9L839.7 473.9L841.7 473.9L843.7 473.9L845.7 474.0L847.7 474.0L849.7 474.0L851.7 474.0L853.7 474.1L855.7 474.1L857.7 474.1L859.7 474.1L861.7 474.1L863.7 474.2L865.7 474.2L865.8 474.2" stroke="#00caff" stroke-width="2.4" stroke-dasharray="8.5 8.25" fill="none"/>
<path d="M125.7 442.7L127.7 444.0L129.7 444.7L131.7 445.3L133.7 445.9L135.7 446.7L137.7 447.5L139.7 448.3L141.7 449.1L143.7 450.0L145.7 450.8L147.7 451.5L149.7 452.3L151.7 453.0L153.7 453.8L155.7 454.5L157.7 455.3L159.7 456.0L161.7 456.7L163.7 457.3L165.7 457.9L167.7 458.5L169.7 459.2L171.7 459.8L173.7 460.4L175.7 461.0L177.7 461.5L179.7 462.0L181.7 462.5L183.7 463.0L185.7 463.5L187.7 464.0L189.7 464.5L191.7 465.0L193.7 465.4L195.7 465.9L197.7 466.3L199.7 466.7L201.7 467.1L203.7 467.6L205.7 468.0L207.7 468.3L209.7 468.7L211.7 469.0L213.7 469.4L215.7 469.7L217.7 470.0L219.7 470.3L221.7 470.7L223.7 471.0L225.7 471.3L227.7 471.6L229.7 471.8L231.7 472.0L233.7 472.3L235.7 472.5L237.7 472.7L239.7 473.0L241.7 473.2L243.7 473.4L245.7 473.6L247.7 473.8L249.7 474.0L251.7 474.1L253.7 474.3L255.7 474.5L257.7 474.7L259.7 474.9L261.7 475.0L263.7 475.2L265.7 475.4L267.7 475.5L269.7 475.7L271.7 475.9L273.7 476.0L275.7 476.2L277.7 476.3L279.7 476.4L281.7 476.6L283.7 476.7L285.7 476.8L287.7 476.9L289.7 477.0L291.7 477.2L293.7 477.3L295.7 477.4L297.7 477.5L299.7 477.6L301.7 477.7L303.7 477.8L305.7 477.9L307.7 478.0L309.7 478.1L311.7 478.2L313.7 478.3L315.7 478.5L317.7 478.6L319.7 478.7L321.7 478.8L323.7 478.9L325.7 479.0L327.7 479.1L329.7 479.2L331.7 479.3L333.7 479.4L335.7 479.5L337.7 479.6L339.7 479.7L341.7 479.8L343.7 479.8L345.7 479.9L347.7 480.0L349.7 480.0L351.7 480.1L353.7 480.1L355.7 480.2L357.7 480.3L359.7 480.3L361.7 480.4L363.7 480.5L365.7 480.5L367.7 480.6L369.7 480.7L371.7 480.8L373.7 480.8L375.7 480.9L377.7 481.0L379.7 481.0L381.7 481.1L383.7 481.1L385.7 481.2L387.7 481.3L389.7 481.3L391.7 481.4L393.7 481.4L395.7 481.5L397.7 481.6L399.7 481.7L401.7 481.7L403.7 481.8L405.7 481.9L407.7 482.0L409.7 482.0L411.7 482.1L413.7 482.2L415.7 482.2L417.7 482.3L419.7 482.4L421.7 482.5L423.7 482.5L425.7 482.6L427.7 482.7L429.7 482.8L431.7 482.8L433.7 482.9L435.7 483.0L437.7 483.0L439.7 483.1L441.7 483.1L443.7 483.2L445.7 483.2L447.7 483.3L449.7 483.4L451.7 483.4L453.7 483.5L455.7 483.5L457.7 483.6L459.7 483.6L461.7 483.7L463.7 483.7L465.7 483.8L467.7 483.8L469.7 483.9L471.7 483.9L473.7 484.0L475.7 484.0L477.7 484.1L479.7 484.1L481.7 484.2L483.7 484.2L485.7 484.3L487.7 484.3L489.7 484.4L491.7 484.4L493.7 484.5L495.7 484.5L497.7 484.6L499.7 484.6L501.7 484.7L503.7 484.7L505.7 484.8L507.7 484.8L509.7 484.9L511.7 484.9L513.7 485.0L515.7 485.0L517.7 485.1L519.7 485.2L521.7 485.2L523.7 485.3L525.7 485.3L527.7 485.4L529.7 485.4L531.7 485.5L533.7 485.5L535.7 485.6L537.7 485.6L539.7 485.7L541.7 485.7L543.7 485.8L545.7 485.8L547.7 485.9L549.7 485.9L551.7 486.0L553.7 486.0L555.7 486.1L557.7 486.1L559.7 486.2L561.7 486.2L563.7 486.3L565.7 486.3L567.7 486.4L569.7 486.4L571.7 486.5L573.7 486.5L575.7 486.6L577.7 486.6L579.7 486.7L581.7 486.7L583.7 486.7L585.7 486.8L587.7 486.8L589.7 486.8L591.7 486.8L593.7 486.9L595.7 486.9L597.7 486.9L599.7 486.9L601.7 487.0L603.7 487.0L605.7 487.0L607.7 487.0L609.7 487.1L611.7 487.1L613.7 487.1L615.7 487.1L617.7 487.1L619.7 487.2L621.7 487.2L623.7 487.2L625.7 487.2L627.7 487.3L629.7 487.3L631.7 487.3L633.7 487.3L635.7 487.4L637.7 487.4L639.7 487.4L641.7 487.4L643.7 487.5L645.7 487.5L647.7 487.5L649.7 487.5L651.7 487.6L653.7 487.6L655.7 487.6L657.7 487.6L659.7 487.6L661.7 487.7L663.7 487.7L665.7 487.7L667.7 487.7L669.7 487.8L671.7 487.8L673.7 487.8L675.7 487.8L677.7 487.9L679.7 487.9L681.7 487.9L683.7 487.9L685.7 488.0L687.7 488.0L689.7 488.0L691.7 488.0L693.7 488.1L695.7 488.1L697.7 488.1L699.7 488.1L701.7 488.1L703.7 488.2L705.7 488.2L707.7 488.2L709.7 488.2L711.7 488.3L713.7 488.3L715.7 488.3L717.7 488.3L719.7 488.4L721.7 488.4L723.7 488.4L725.7 488.4L727.7 488.5L729.7 488.5L731.7 488.5L733.7 488.5L735.7 488.6L737.7 488.6L739.7 488.6L741.7 488.6L743.7 488.6L745.7 488.7L747.7 488.7L749.7 488.7L751.7 488.7L753.7 488.8L755.7 488.8L757.7 488.8L759.7 488.8L761.7 488.9L763.7 488.9L765.7 488.9L767.7 488.9L769.7 489.0L771.7 489.0L773.7 489.0L775.7 489.0L777.7 489.1L779.7 489.1L781.7 489.1L783.7 489.1L785.7 489.1L787.7 489.2L789.7 489.2L791.7 489.2L793.7 489.2L795.7 489.3L797.7 489.3L799.7 489.3L801.7 489.3L803.7 489.4L805.7 489.4L807.7 489.4L809.7 489.4L811.7 489.5L813.7 489.5L815.7 489.5L817.7 489.5L819.7 489.6L821.7 489.6L823.7 489.6L825.7 489.6L827.7 489.6L829.7 489.7L831.7 489.7L833.7 489.7L835.7 489.7L837.7 489.8L839.7 489.8L841.7 489.8L843.7 489.8L845.7 489.9L847.7 489.9L849.7 489.9L851.7 489.9L853.7 490.0L855.7 490.0L857.7 490.0L859.7 490.0L861.7 490.1L863.7 490.1L865.7 490.1L865.8 490.1" stroke="#ff2000" stroke-width="2.4" stroke-dasharray="8.5 8.25" fill="none"/>
<path d="M125.7 457.2L127.7 458.5L129.7 459.2L131.7 459.8L133.7 460.4L135.7 461.2L137.7 462.0L139.7 462.9L141.7 463.7L143.7 464.6L145.7 465.4L147.7 466.1L149.7 466.9L151.7 467.7L153.7 468.4L155.7 469.2L157.7 469.9L159.7 470.7L161.7 471.3L163.7 471.9L165.7 472.5L167.7 473.1L169.7 473.7L171.7 474.3L173.7 474.9L175.7 475.5L177.7 476.0L179.7 476.4L181.7 476.9L183.7 477.3L185.7 477.7L187.7 478.1L189.7 478.6L191.7 479.0L193.7 479.5L195.7 480.0L197.7 480.5L199.7 481.0L201.7 481.5L203.7 482.0L205.7 482.5L207.7 483.0L209.7 483.4L211.7 483.7L213.7 484.0L215.7 484.3L217.7 484.6L219.7 484.9L221.7 485.2L223.7 485.5L225.7 485.8L227.7 486.1L229.7 486.3L231.7 486.5L233.7 486.8L235.7 487.0L237.7 487.2L239.7 487.5L241.7 487.7L243.7 487.9L245.7 488.1L247.7 488.3L249.7 488.5L251.7 488.7L253.7 488.9L255.7 489.1L257.7 489.3L259.7 489.5L261.7 489.6L263.7 489.8L265.7 489.9L267.7 490.1L269.7 490.2L271.7 490.4L273.7 490.6L275.7 490.7L277.7 490.8L279.7 490.9L281.7 491.1L283.7 491.2L285.7 491.3L287.7 491.4L289.7 491.5L291.7 491.7L293.7 491.8L295.7 491.9L297.7 492.0L299.7 492.1L301.7 492.3L303.7 492.4L305.7 492.5L307.7 492.6L309.7 492.7L311.7 492.8L313.7 492.9L315.7 493.0L317.7 493.1L319.7 493.2L321.7 493.3L323.7 493.4L325.7 493.5L327.7 493.6L329.7 493.7L331.7 493.7L333.7 493.8L335.7 493.9L337.7 494.0L339.7 494.1L341.7 494.2L343.7 494.2L345.7 494.3L347.7 494.4L349.7 494.5L351.7 494.5L353.7 494.6L355.7 494.7L357.7 494.7L359.7 494.8L361.7 494.9L363.7 494.9L365.7 495.0L367.7 495.1L369.7 495.1L371.7 495.2L373.7 495.2L375.7 495.3L377.7 495.4L379.7 495.4L381.7 495.5L383.7 495.6L385.7 495.7L387.7 495.7L389.7 495.8L391.7 495.9L393.7 495.9L395.7 496.0L397.7 496.1L399.7 496.1L401.7 496.2L403.7 496.3L405.7 496.4L407.7 496.4L409.7 496.5L411.7 496.6L413.7 496.6L415.7 496.7L417.7 496.8L419.7 496.8L421.7 496.9L423.7 497.0L425.7 497.0L427.7 497.1L429.7 497.2L431.7 497.3L433.7 497.3L435.7 497.4L437.7 497.4L439.7 497.5L441.7 497.5L443.7 497.6L445.7 497.6L447.7 497.7L449.7 497.7L451.7 497.8L453.7 497.8L455.7 497.9L457.7 497.9L459.7 498.0L461.7 498.0L463.7 498.1L465.7 498.1L467.7 498.2L469.7 498.2L471.7 498.3L473.7 498.3L475.7 498.4L477.7 498.4L479.7 498.5L481.7 498.5L483.7 498.6L485.7 498.6L487.7 498.7L489.7 498.7L491.7 498.8L493.7 498.8L495.7 498.9L497.7 498.9L499.7 498.9L501.7 499.0L503.7 499.0L505.7 499.1L507.7 499.1L509.7 499.2L511.7 499.2L513.7 499.3L515.7 499.3L517.7 499.4L519.7 499.4L521.7 499.5L523.7 499.5L525.7 499.6L527.7 499.6L529.7 499.7L531.7 499.7L533.7 499.8L535.7 499.8L537.7 499.9L539.7 499.9L541.7 500.0L543.7 500.0L545.7 500.1L547.7 500.1L549.7 500.2L551.7 500.2L553.7 500.3L555.7 500.3L557.7 500.4L559.7 500.4L561.7 500.5L563.7 500.5L565.7 500.6L567.7 500.6L569.7 500.6L571.7 500.7L573.7 500.7L575.7 500.8L577.7 500.8L579.7 500.9L581.7 500.9L583.7 500.9L585.7 501.0L587.7 501.0L589.7 501.0L591.7 501.1L593.7 501.1L595.7 501.1L597.7 501.1L599.7 501.2L601.7 501.2L603.7 501.2L605.7 501.2L607.7 501.3L609.7 501.3L611.7 501.3L613.7 501.3L615.7 501.4L617.7 501.4L619.7 501.4L621.7 501.5L623.7 501.5L625.7 501.5L627.7 501.5L629.7 501.6L631.7 501.6L633.7 501.6L635.7 501.6L637.7 501.7L639.7 501.7L641.7 501.7L643.7 501.7L645.7 501.8L647.7 501.8L649.7 501.8L651.7 501.9L653.7 501.9L655.7 501.9L657.7 501.9L659.7 502.0L661.7 502.0L663.7 502.0L665.7 502.0L667.7 502.1L669.7 502.1L671.7 502.1L673.7 502.1L675.7 502.2L677.7 502.2L679.7 502.2L681.7 502.3L683.7 502.3L685.7 502.3L687.7 502.3L689.7 502.4L691.7 502.4L693.7 502.4L695.7 502.4L697.7 502.5L699.7 502.5L701.7 502.5L703.7 502.5L705.7 502.6L707.7 502.6L709.7 502.6L711.7 502.7L713.7 502.7L715.7 502.7L717.7 502.7L719.7 502.8L721.7 502.8L723.7 502.8L725.7 502.8L727.7 502.9L729.7 502.9L731.7 502.9L733.7 502.9L735.7 503.0L737.7 503.0L739.7 503.0L741.7 503.0L743.7 503.1L745.7 503.1L747.7 503.1L749.7 503.2L751.7 503.2L753.7 503.2L755.7 503.2L757.7 503.3L759.7 503.3L761.7 503.3L763.7 503.3L765.7 503.4L767.7 503.4L769.7 503.4L771.7 503.4L773.7 503.5L775.7 503.5L777.7 503.5L779.7 503.6L781.7 503.6L783.7 503.6L785.7 503.6L787.7 503.7L789.7 503.7L791.7 503.7L793.7 503.7L795.7 503.8L797.7 503.8L799.7 503.8L801.7 503.8L803.7 503.9L805.7 503.9L807.7 503.9L809.7 504.0L811.7 504.0L813.7 504.0L815.7 504.0L817.7 504.1L819.7 504.1L821.7 504.1L823.7 504.1L825.7 504.2L827.7 504.2L829.7 504.2L831.7 504.2L833.7 504.3L835.7 504.3L837.7 504.3L839.7 504.4L841.7 504.4L843.7 504.4L845.7 504.4L847.7 504.5L849.7 504.5L851.7 504.5L853.7 504.5L855.7 504.6L857.7 504.6L859.7 504.6L861.7 504.6L863.7 504.7L865.7 504.7L865.8 504.7" stroke="#000000" stroke-width="2.4" stroke-dasharray="8.5 8.25" fill="none"/>
<circle cx="772.8" cy="39.1" r="2.9" fill="#3a06e2"/>
<circle cx="772.8" cy="61.2" r="2.9" fill="#00caff"/>
<circle cx="772.8" cy="83.3" r="2.9" fill="#ff2000"/>
<circle cx="772.8" cy="105.3" r="2.9" fill="#000000"/>
<path d="M709.8 127.4H836" stroke="#000" stroke-width="2" stroke-dasharray="2 3.94" fill="none"/>
<path d="M709.8 149.5H836" stroke="#000" stroke-width="2.4" stroke-dasharray="8.8 8" fill="none"/>
</svg>
<span class="w" style="left:115.84px;top:576.80px;font-size:31px;letter-spacing:2.2px;transform:scaleX(1.0450)">0</span>
<span class="w" style="left:197.03px;top:576.80px;font-size:31px;letter-spacing:2.2px;transform:scaleX(1.0450)">200</span>
<span class="w" style="left:297.04px;top:576.80px;font-size:31px;letter-spacing:2.2px;transform:scaleX(1.0450)">400</span>
<span class="w" style="left:395.99px;top:576.80px;font-size:31px;letter-spacing:2.2px;transform:scaleX(1.0450)">600</span>
<span class="w" style="left:495.47px;top:576.80px;font-size:31px;letter-spacing:2.2px;transform:scaleX(1.0450)">800</span>
<span class="w" style="left:585.03px;top:576.80px;font-size:31px;letter-spacing:2.2px;transform:scaleX(1.0450)">1000</span>
<span class="w" style="left:684.50px;top:576.80px;font-size:31px;letter-spacing:2.2px;transform:scaleX(1.0450)">1200</span>
<span class="w" style="left:783.99px;top:576.80px;font-size:31px;letter-spacing:2.2px;transform:scaleX(1.0450)">1400</span>
<span class="w" style="left:47.86px;top:33.62px;font-size:31px;letter-spacing:2.2px;transform:scaleX(1.0450)">10</span>
<span class="w" style="left:47.86px;top:152.92px;font-size:31px;letter-spacing:2.2px;transform:scaleX(1.0450)">15</span>
<span class="w" style="left:47.86px;top:272.22px;font-size:31px;letter-spacing:2.2px;transform:scaleX(1.0450)">20</span>
<span class="w" style="left:47.86px;top:391.52px;font-size:31px;letter-spacing:2.2px;transform:scaleX(1.0450)">25</span>
<span class="w" style="left:47.86px;top:510.82px;font-size:31px;letter-spacing:2.2px;transform:scaleX(1.0450)">30</span>
<span class="w" style="left:319.00px;top:612.70px;font-size:31px;letter-spacing:1.0px;transform:scaleX(0.9412)">JD</span>
<span class="w" style="left:368.27px;top:612.70px;font-size:31px;letter-spacing:0px;transform:scaleX(1.2333)">−</span>
<span class="w" style="left:405.25px;top:612.70px;font-size:31px;letter-spacing:2.0px;transform:scaleX(1.0538)">2455817</span>
<span class="w" style="left:548.90px;top:612.70px;font-size:31px;letter-spacing:2.0px;transform:scaleX(1.1047)">(days)</span>
<span class="w" style="left:-4.30px;top:362.79px;font-size:31px;letter-spacing:2.0px;transform:rotate(-90deg) scaleX(1.0852)">Magnitude</span>
<span class="w g" style="left:627.20px;top:28.20px;font-size:19.5px;letter-spacing:0px;transform:scaleX(0.9500)">B</span>
<span class="w g" style="left:650.97px;top:28.20px;font-size:19.5px;letter-spacing:1.2px;transform:scaleX(1.1316)">−1.0</span>
<span class="w g" style="left:633.40px;top:50.00px;font-size:19.5px;letter-spacing:0px;transform:scaleX(0.8214)">V</span>
<span class="w g" style="left:666.00px;top:50.00px;font-size:19.5px;letter-spacing:1.2px;transform:scaleX(1.1192)">0.0</span>
<span class="w g" style="left:627.20px;top:72.40px;font-size:19.5px;letter-spacing:0px;transform:scaleX(0.9308)">R</span>
<span class="w g" style="left:650.97px;top:72.40px;font-size:19.5px;letter-spacing:1.2px;transform:scaleX(1.1316)">+1.0</span>
<span class="w g" style="left:633.40px;top:94.40px;font-size:19.5px;letter-spacing:0px;transform:scaleX(0.9333)">I</span>
<span class="w g" style="left:650.97px;top:94.40px;font-size:19.5px;letter-spacing:1.2px;transform:scaleX(1.1316)">+2.0</span>
<span class="w g" style="left:557.90px;top:117.00px;font-size:19.5px;letter-spacing:1.2px;transform:scaleX(1.2410)">late−time</span>
<span class="w g" style="left:671.90px;top:117.00px;font-size:19.5px;letter-spacing:1.2px;transform:scaleX(1.1600)">fit</span>
<span class="w g" style="left:534.70px;top:139.10px;font-size:19.5px;letter-spacing:0px;transform:scaleX(0.9909)">E</span>
<span class="w g b" style="left:545.70px;top:150.40px;font-size:12px;letter-spacing:0.3px;transform:scaleX(1.3045)">heat</span>
<span class="w g" style="left:576.04px;top:139.10px;font-size:19.5px;letter-spacing:1.2px;transform:scaleX(1.1579)">=4.0</span>
<span class="w g" style="left:633.00px;top:139.10px;font-size:19.5px;letter-spacing:1.2px;transform:scaleX(1.1717)">model</span>
</body></html>
